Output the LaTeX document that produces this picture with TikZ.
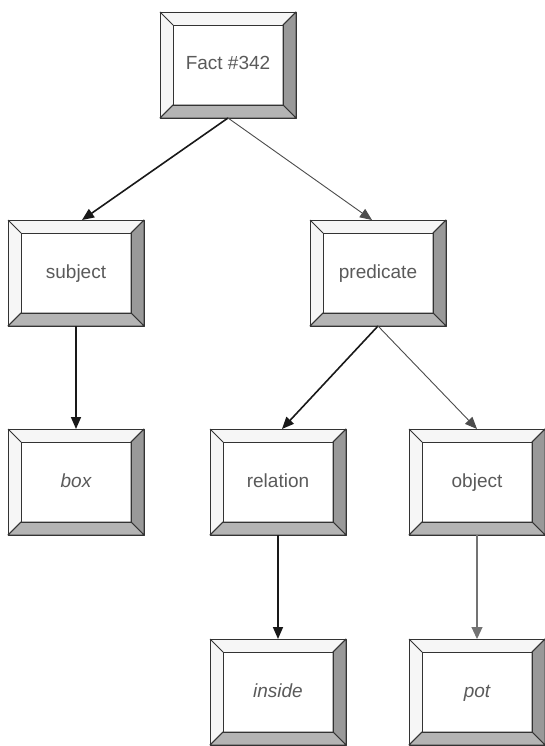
\documentclass[tikz,border=0pt]{standalone}
\usepackage{fontspec}
\setmainfont{Liberation Sans}
\usetikzlibrary{arrows.meta,calc}
\definecolor{txt}{HTML}{5A5A5A}
\definecolor{bevR}{HTML}{999999}
\definecolor{bevB}{HTML}{B4B4B4}
\definecolor{bevL}{HTML}{F6F6F6}
\tikzset{
  bbox/.style={minimum width=136pt,minimum height=106pt,inner sep=0pt,outer sep=0pt,
    text height=14pt,text depth=4pt,
    text=txt,font=\fontsize{19}{22}\selectfont},
  bevline/.style={draw=black!80,line width=0.8pt,line join=round},
  thick arrow/.style={draw=black!90,line width=1.6pt,-{Triangle[length=12pt,width=10pt]}},
  thin arrow/.style={draw=black!70,line width=0.9pt,-{Triangle[length=12pt,width=10pt]}},
  faint arrow/.style={draw=black!55,line width=1.1pt,-{Triangle[length=12pt,width=11pt]}},
}
\newcommand{\bevbox}[3]{%
  \node[bbox] (#1) at (#2) {#3};
  \fill[bevL] (#1.north west) -- (#1.north east) -- ($(#1.north east)+(-13pt,-13pt)$) -- ($(#1.north west)+(13pt,-13pt)$) -- cycle;
  \fill[bevL] (#1.north west) -- (#1.south west) -- ($(#1.south west)+(13pt,13pt)$) -- ($(#1.north west)+(13pt,-13pt)$) -- cycle;
  \filldraw[fill=bevR,bevline] (#1.north east) -- (#1.south east) -- ($(#1.south east)+(-13pt,13pt)$) -- ($(#1.north east)+(-13pt,-13pt)$) -- cycle;
  \filldraw[fill=bevB,bevline] (#1.south west) -- (#1.south east) -- ($(#1.south east)+(-13pt,13pt)$) -- ($(#1.south west)+(13pt,13pt)$) -- cycle;
  \draw[bevline] (#1.north west) rectangle (#1.south east);
  \draw[bevline] ($(#1.north west)+(13pt,-13pt)$) rectangle ($(#1.south east)+(-13pt,13pt)$);
  \draw[bevline] (#1.north west) -- ($(#1.north west)+(13pt,-13pt)$);
  \draw[bevline] (#1.north east) -- ($(#1.north east)+(-13pt,-13pt)$);
  \draw[bevline] (#1.south west) -- ($(#1.south west)+(13pt,13pt)$);
}
\begin{document}
\begin{tikzpicture}[x=1pt,y=-1pt]
\useasboundingbox[fill=white] (0,0) rectangle (545,746);
\bevbox{fact}{228,65}{Fact \#342}
\bevbox{subject}{76,273}{subject}
\bevbox{predicate}{378,273}{predicate}
\bevbox{box}{76,482}{\itshape box}
\bevbox{relation}{278,482}{relation}
\bevbox{object}{477,482}{object}
\bevbox{inside}{278,692}{\itshape inside}
\bevbox{pot}{477,692}{\itshape pot}
\draw[thick arrow] (fact.south) -- ([xshift=6pt]subject.north);
\draw[thin arrow] (fact.south) -- ([xshift=-6pt]predicate.north);
\draw[thick arrow] (predicate.south) -- ([xshift=4pt]relation.north);
\draw[thin arrow] (predicate.south) -- (object.north);
\draw[thick arrow] (subject.south) -- (box.north);
\draw[thick arrow] (relation.south) -- (inside.north);
\draw[faint arrow] (object.south) -- (pot.north);
\end{tikzpicture}
\end{document}
